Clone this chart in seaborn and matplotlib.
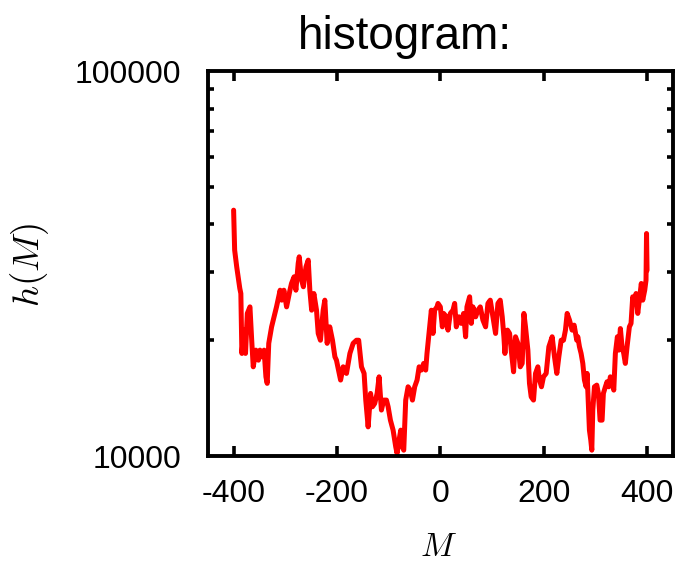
import matplotlib
matplotlib.use("Agg")
import matplotlib.pyplot as plt
import matplotlib.ticker as mticker
import seaborn as sns
import pandas as pd

M_values = [
    -400, -398, -394, -388, -386, -384, -380, -377,
    -373.5, -368.4, -365, -362, -357, -352, -349, -346,
    -341, -337.5, -335, -332, -326.5, -320, -317, -310,
    -307, -302.7, -297.5, -291, -288, -283, -279.5, -275,
    -273, -268.5, -265, -260, -255.6, -252.5, -249, -244.7,
    -239.6, -236.3, -232, -226.7, -223.5, -219, -214, -208.7,
    -204, -201, -193, -188, -181.6, -175, -168.7, -162.3,
    -158, -152.6, -147.5, -144.3, -139.7, -137.8, -135, -131.4,
    -127, -122.3, -118.5, -114, -109.5, -104.3, -101, -96.6,
    -91.4, -86.3, -83.7, -79.8, -76.6, -73.4, -70.8, -67,
    -62.4, -58, -54, -49.6, -45, -41, -36.7, -32.2,
    -28.3, -25.8, -21.9, -17.4, -14.2, -11, -6.4, -4.5,
    0, 3.9, 6.4, 11.6, 14.8, 19.3, 24.5, 27.7,
    30.9, 36, 40.6, 45, 48.9, 51.5, 56.7, 59.9,
    63.1, 68.3, 72.8, 77.3, 82.4, 87.6, 92.1, 96.6,
    101.8, 106.9, 111.4, 115.9, 119.8, 123, 125, 127.5,
    130, 134, 137.2, 141.7, 145.5, 150.1, 154.6, 158.4,
    161.7, 164.8, 169.4, 172.5, 175.8, 180.3, 184.2, 188.7,
    191.9, 195.7, 199.6, 204.8, 210, 216.4, 220.9, 225.4,
    229.3, 233.8, 238.3, 242.1, 245.4, 249.9, 255, 258.9,
    264, 266, 269.2, 272.4, 275.7, 278.8, 282.1, 284,
    286.6, 288.5, 291.1, 293.1, 295, 298.2, 302.7, 305.9,
    309.1, 313, 315.5, 319.4, 322.6, 325.9, 329, 332.3,
    335.6, 338.7, 342.6, 345.2, 348.4, 351.6, 354.9, 358,
    361.3, 365.8, 369, 372.3, 375.4, 378.7, 382, 385,
    388.9, 391.6, 395.5, 398, 399, 400,
]
h_values = [
    43550, 34300, 31020, 27260, 26450, 18480, 21250, 18480,
    23480, 24420, 20000, 17060, 18850, 17750, 18850, 18110,
    18850, 16070, 15450, 19630, 21670, 23480, 24420, 26980,
    25420, 26980, 24420, 26980, 28090, 29230, 26980, 31700,
    32950, 28650, 27540, 31020, 32300, 26980, 23940, 26450,
    23940, 20830, 20000, 23940, 25420, 19630, 21670, 20000,
    18110, 17750, 15760, 17060, 16400, 18480, 19630, 20000,
    20000, 17060, 16400, 13980, 11910, 12910, 14550, 13430,
    13700, 14550, 16070, 13170, 13980, 13980, 13430, 12400,
    11680, 10570, 10160, 11010, 11680, 10570, 10360, 13980,
    15140, 14840, 13980, 15140, 15760, 17060, 16730, 17410,
    16730, 18480, 20830, 23940, 20830, 23940, 24420, 24930,
    24420, 21670, 23480, 23010, 21250, 23480, 23940, 24930,
    21670, 23010, 22120, 23480, 20420, 24420, 25940, 22120,
    24420, 23010, 23940, 24420, 22560, 21670, 24930, 25420,
    23010, 20830, 24930, 25420, 23010, 20420, 18480, 20830,
    21250, 20830, 18850, 16560, 20420, 19630, 17060, 17410,
    23480, 21670, 18850, 15450, 14260, 13980, 16400, 17060,
    15760, 15140, 16070, 16400, 19230, 20420, 18110, 16400,
    18110, 20000, 20000, 21250, 23480, 22560, 21250, 21890,
    20000, 20420, 19230, 18480, 17410, 15760, 15140, 16400,
    13430, 11680, 11010, 10360, 13170, 15140, 15290, 14550,
    12400, 12400, 14550, 15140, 15600, 15140, 16070, 15600,
    14840, 18480, 20420, 18850, 21450, 19230, 18480, 17410,
    19230, 21670, 22120, 25940, 24930, 26450, 23480, 25420,
    28090, 25420, 26980, 28650, 37870, 30400,
]

x_ticks = [-400, -200, 0, 200, 400]
y_ticks = [10000, 100000]
y_tick_labels = ["10000", "100000"]

df = pd.DataFrame({"M": M_values, "h": h_values})

sns.set_style("ticks")
plt.rcParams["font.family"] = ["Liberation Sans", "DejaVu Sans"]
plt.rcParams["mathtext.fontset"] = "cm"
for k in ["text.color", "axes.labelcolor", "xtick.color", "ytick.color", "axes.edgecolor"]:
    plt.rcParams[k] = "black"

fig = plt.figure(figsize=(6.79, 5.61), dpi=100)
ax = fig.add_axes([0.306, 0.187, 0.685, 0.686])

sns.lineplot(data=df, x="M", y="h", ax=ax, color="#ff0000", linewidth=3.6,
             estimator=None, sort=False)

ax.set_yscale("log")
ax.set_xlim(-450, 450)
ax.set_ylim(10000, 100000)
ax.set_xticks(x_ticks)
ax.set_xticklabels([str(t) for t in x_ticks])
ax.set_yticks(y_ticks)
ax.set_yticklabels(y_tick_labels)
ax.yaxis.set_minor_locator(mticker.LogLocator(base=10, subs=range(2, 10)))
ax.yaxis.set_minor_formatter(mticker.NullFormatter())

for s in ax.spines.values():
    s.set_linewidth(2.8)
    s.set_color("black")

ax.tick_params(axis="x", which="major", direction="in", length=7, width=2.6,
               labelsize=23, top=True, bottom=True, pad=16.5)
ax.tick_params(axis="y", which="major", direction="in", length=0,
               labelsize=23, pad=19)
ax.tick_params(axis="y", which="minor", direction="in", length=4, width=2.6,
               left=True, right=True)
ax.tick_params(axis="x", which="minor", bottom=False, top=False)

ax.set_xlabel("")
ax.set_ylabel("")
fig.text(438 / 679, 1 - 547 / 561, r"$M$", fontsize=24, ha="center", va="center")
fig.text(30 / 679, 1 - 265 / 561, r"$h(M)$", fontsize=26.5, ha="center",
         va="center", rotation=90)
fig.text(405 / 679, 1 - 49 / 561, "histogram:", fontsize=33, ha="center",
         va="baseline")

fig.savefig("out.png", dpi=100)
